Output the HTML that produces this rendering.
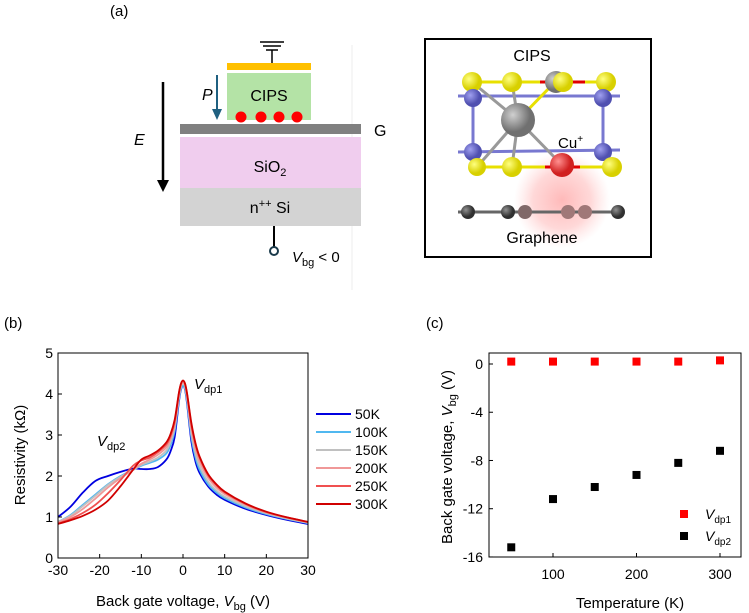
<!DOCTYPE html>
<html><head><meta charset="utf-8"><style>
body{margin:0;background:#fff;}
svg{display:block;font-family:"Liberation Sans",Arial,sans-serif;}
</style></head><body>
<svg width="749" height="613" viewBox="0 0 749 613">
<defs>
<radialGradient id="glow"><stop offset="0" stop-color="#ff8080" stop-opacity="0.55"/><stop offset="0.6" stop-color="#ff9090" stop-opacity="0.35"/><stop offset="1" stop-color="#ffb0b0" stop-opacity="0"/></radialGradient>
<radialGradient id="yel" cx="0.35" cy="0.35"><stop offset="0" stop-color="#ffff80"/><stop offset="1" stop-color="#d8d000"/></radialGradient>
<radialGradient id="blu" cx="0.35" cy="0.35"><stop offset="0" stop-color="#a0a0f0"/><stop offset="1" stop-color="#5050b0"/></radialGradient>
<radialGradient id="gry" cx="0.35" cy="0.35"><stop offset="0" stop-color="#d0d0d0"/><stop offset="1" stop-color="#707070"/></radialGradient>
<radialGradient id="red" cx="0.35" cy="0.35"><stop offset="0" stop-color="#ff9090"/><stop offset="1" stop-color="#d02020"/></radialGradient>
<radialGradient id="dk" cx="0.35" cy="0.35"><stop offset="0" stop-color="#909090"/><stop offset="1" stop-color="#303030"/></radialGradient>
</defs>
<g>
<text x="110" y="16" font-size="15">(a)</text>
<line x1="352" y1="45" x2="352" y2="290" stroke="#eee" stroke-width="1"/>
<g stroke="#000" stroke-width="1.5">
<line x1="260" y1="42" x2="284" y2="42"/><line x1="263" y1="46" x2="281" y2="46"/><line x1="266" y1="50" x2="278" y2="50"/><line x1="272" y1="50" x2="272" y2="63"/>
</g>
<rect x="227" y="63" width="84" height="7" fill="#ffc000"/>
<rect x="227" y="73" width="84" height="47" fill="#b4e3a6"/>
<text x="269" y="101" font-size="16" text-anchor="middle">CIPS</text>
<g fill="#ff0000"><circle cx="241" cy="117" r="5.5"/><circle cx="261" cy="117" r="5.5"/><circle cx="279" cy="117" r="5.5"/><circle cx="297" cy="117" r="5.5"/></g>
<rect x="180" y="124" width="181" height="10" fill="#808080"/>
<text x="374" y="136" font-size="16">G</text>
<rect x="180" y="137" width="181" height="51" fill="#f0cdee"/>
<text x="270" y="172" font-size="16" text-anchor="middle">SiO<tspan font-size="11" dy="4">2</tspan></text>
<rect x="180" y="188" width="181" height="38" fill="#d3d3d3"/>
<text x="270" y="213" font-size="16" text-anchor="middle">n<tspan font-size="11" dy="-6">++</tspan><tspan dy="6"> Si</tspan></text>
<line x1="274" y1="226" x2="274" y2="247" stroke="#000" stroke-width="2"/>
<circle cx="274" cy="251" r="4" fill="#fff" stroke="#1a3a4a" stroke-width="2"/>
<text x="292" y="262" font-size="15"><tspan font-style="italic">V</tspan><tspan font-size="11" dy="4">bg</tspan><tspan dy="-4"> &lt; 0</tspan></text>
<g><line x1="163" y1="82" x2="163" y2="180" stroke="#000" stroke-width="2.5"/><polygon points="157,180 169,180 163,192" fill="#000"/></g>
<text x="134" y="145" font-size="16" font-style="italic">E</text>
<g><line x1="217" y1="75" x2="217" y2="110" stroke="#1f6080" stroke-width="2"/><polygon points="212,109 222,109 217,120" fill="#1f6080"/></g>
<text x="202" y="100" font-size="16" font-style="italic">P</text>
</g>
<g>
<rect x="425" y="39" width="226" height="218" fill="#fff" stroke="#000" stroke-width="2"/>
<circle cx="562" cy="200" r="48" fill="url(#glow)"/>
<text x="532" y="61" font-size="16" text-anchor="middle">CIPS</text>
<g stroke-width="3">
<line x1="458" y1="96" x2="620" y2="96" stroke="#7878d0"/>
<line x1="473" y1="98" x2="473" y2="152" stroke="#7878d0"/><line x1="603" y1="98" x2="603" y2="152" stroke="#7878d0"/>
<line x1="458" y1="152" x2="620" y2="150" stroke="#7878d0"/>
<line x1="472" y1="82" x2="606" y2="82" stroke="#e8e000"/>
<line x1="540" y1="82" x2="585" y2="82" stroke="#e00000"/>
<line x1="477" y1="167" x2="612" y2="167" stroke="#e8e000"/>
<line x1="545" y1="167" x2="580" y2="167" stroke="#e00000"/>
<line x1="518" y1="120" x2="472" y2="82" stroke="#999"/><line x1="518" y1="120" x2="512" y2="82" stroke="#999"/><line x1="518" y1="120" x2="555" y2="82" stroke="#e8e000"/>
<line x1="518" y1="120" x2="477" y2="167" stroke="#999"/><line x1="518" y1="120" x2="512" y2="167" stroke="#999"/><line x1="518" y1="120" x2="562" y2="165" stroke="#999"/>
<line x1="458" y1="212" x2="620" y2="212" stroke="#666"/>
</g>
<circle cx="556" cy="82" r="11" fill="url(#gry)"/>
<circle cx="472" cy="82" r="10" fill="url(#yel)"/><circle cx="512" cy="82" r="10" fill="url(#yel)"/><circle cx="563" cy="82" r="10" fill="url(#yel)"/><circle cx="606" cy="82" r="10" fill="url(#yel)"/>
<circle cx="473" cy="98" r="9" fill="url(#blu)"/><circle cx="603" cy="98" r="9" fill="url(#blu)"/>
<circle cx="473" cy="152" r="9" fill="url(#blu)"/><circle cx="603" cy="152" r="9" fill="url(#blu)"/>
<circle cx="518" cy="120" r="17" fill="url(#gry)"/>
<circle cx="477" cy="167" r="9" fill="url(#yel)"/><circle cx="512" cy="167" r="10" fill="url(#yel)"/><circle cx="612" cy="167" r="10" fill="url(#yel)"/>
<circle cx="562" cy="165" r="12" fill="url(#red)"/>
<text x="558" y="148" font-size="15">Cu<tspan font-size="10" dy="-6">+</tspan></text>
<circle cx="468" cy="212" r="7" fill="url(#dk)"/><circle cx="508" cy="212" r="7" fill="url(#dk)"/><circle cx="525" cy="212" r="7" fill="#806868"/><circle cx="568" cy="212" r="7" fill="#a07878"/><circle cx="585" cy="212" r="7" fill="#a07878"/><circle cx="618" cy="212" r="7" fill="url(#dk)"/>
<text x="542" y="243" font-size="16" text-anchor="middle">Graphene</text>
</g>
<g id="chartB">
<text x="4" y="328" font-size="15">(b)</text>
</g>
<g id="chartC">
<text x="426" y="328" font-size="15">(c)</text>
</g>
</svg>
<script>
const NS='http://www.w3.org/2000/svg';
const vbg=[-30,-27,-24,-21,-18,-15,-12,-10,-8,-6,-4,-3,-2,-1,-0.5,0,0.5,1,2,3,4,6,8,10,15,20,25,30];
const r50=[1.0,1.25,1.6,1.88,2.0,2.1,2.18,2.17,2.17,2.22,2.4,2.6,2.95,3.8,4.1,4.2,4.1,3.75,2.85,2.35,2.07,1.75,1.55,1.42,1.2,1.05,0.93,0.83];
const r100=[0.88,1.05,1.3,1.55,1.8,2.0,2.15,2.25,2.32,2.4,2.55,2.75,3.1,3.85,4.12,4.2,4.12,3.8,2.95,2.45,2.15,1.8,1.6,1.46,1.23,1.07,0.95,0.85];
const r150=[0.88,1.03,1.27,1.52,1.78,1.98,2.15,2.27,2.35,2.45,2.62,2.83,3.18,3.9,4.17,4.25,4.17,3.87,3.05,2.55,2.24,1.87,1.65,1.5,1.26,1.09,0.96,0.86];
const r200=[0.87,1.0,1.2,1.45,1.72,1.95,2.15,2.3,2.4,2.52,2.7,2.9,3.25,3.95,4.2,4.28,4.2,3.93,3.15,2.66,2.35,1.96,1.72,1.56,1.3,1.11,0.98,0.87];
const r250=[0.84,0.95,1.1,1.3,1.58,1.9,2.25,2.38,2.45,2.58,2.77,2.97,3.32,4.0,4.24,4.32,4.24,3.98,3.25,2.76,2.44,2.02,1.78,1.6,1.32,1.12,0.99,0.88];
const r300=[0.83,0.92,1.03,1.18,1.4,1.75,2.15,2.4,2.5,2.62,2.82,3.02,3.37,4.02,4.25,4.33,4.25,4.0,3.3,2.8,2.47,2.05,1.8,1.62,1.33,1.13,0.99,0.88];
const seriesLabels=['50K','100K','150K','200K','250K','300K'];
const xTicksB=[-30,-20,-10,0,10,20,30];
const yTicksB=[0,1,2,3,4,5];
const temps=[50,100,150,200,250,300];
const vdp1=[0.2,0.2,0.2,0.2,0.2,0.3];
const vdp2=[-15.2,-11.2,-10.2,-9.2,-8.2,-7.2];
const xTicksC=[100,200,300];
const yTicksC=[0,-4,-8,-12,-16];

function mk(tag,attrs,parent,txt){const e=document.createElementNS(NS,tag);for(const k in attrs)e.setAttribute(k,attrs[k]);if(txt!==undefined)e.textContent=txt;parent.appendChild(e);return e;}

const gB=document.getElementById('chartB');
const bL=58,bR=308,bT=353,bB=558;
const xB=v=>bL+(v+30)/60*(bR-bL);
const yB=v=>bB-v/5*(bB-bT);
const colors=['#0000e0','#50b8f0','#c0c0c0','#f09898','#f05050','#d00000'];
const allR=[r50,r100,r150,r200,r250,r300];
function spline(px,py){let d='M'+px[0]+','+py[0];for(let i=0;i<px.length-1;i++){const x0=px[Math.max(i-1,0)],y0=py[Math.max(i-1,0)],x1=px[i],y1=py[i],x2=px[i+1],y2=py[i+1],x3=px[Math.min(i+2,px.length-1)],y3=py[Math.min(i+2,px.length-1)];const t=6;d+=' C'+(x1+(x2-x0)/t)+','+(y1+(y2-y0)/t)+' '+(x2-(x3-x1)/t)+','+(y2-(y3-y1)/t)+' '+x2+','+y2;}return d;}
allR.forEach((r,i)=>{const p=mk('path',{d:spline(vbg.map(xB),r.map(yB)),fill:'none',stroke:colors[i],'stroke-width':1.8},gB);

});
const fB=mk('rect',{x:bL,y:bT,width:bR-bL,height:bB-bT,fill:'none',stroke:'#000','stroke-width':1},gB);


xTicksB.forEach(t=>{mk('line',{x1:xB(t),x2:xB(t),y1:bB,y2:bB-4,stroke:'#000'},gB);
const l=mk('text',{x:xB(t),y:bB+17,'font-size':14,'text-anchor':'middle'},gB,t);

});
yTicksB.forEach(t=>{mk('line',{x1:bL,x2:bL+4,y1:yB(t),y2:yB(t),stroke:'#000'},gB);
const l=mk('text',{x:bL-5,y:yB(t)+5,'font-size':14,'text-anchor':'end'},gB,t);

});
const xtB=mk('text',{x:183,y:606,'font-size':15,'text-anchor':'middle'},gB);
xtB.innerHTML='Back gate voltage, <tspan font-style="italic">V</tspan><tspan font-size="11" dy="4">bg</tspan><tspan dy="-4"> (V)</tspan>';


const ytB=mk('text',{x:0,y:0,'font-size':15,'text-anchor':'middle',transform:'translate(25,455) rotate(-90)'},gB,'Resistivity (kΩ)');


const a1=mk('text',{x:194,y:389,'font-size':15},gB);a1.innerHTML='<tspan font-style="italic">V</tspan><tspan font-size="11" dy="4">dp1</tspan>';


const a2=mk('text',{x:97,y:446,'font-size':15},gB);a2.innerHTML='<tspan font-style="italic">V</tspan><tspan font-size="11" dy="4">dp2</tspan>';


seriesLabels.forEach((s,i)=>{const y=414+i*18;const g=mk('g',{},gB);


mk('line',{x1:316,x2:351,y1:y,y2:y,stroke:colors[i],'stroke-width':2},g);mk('text',{x:355,y:y+5,'font-size':14},g,s);});

const gC=document.getElementById('chartC');
const cL=489,cR=741,cT=353,cB=557;
const xC=v=>553+(v-100)*0.835;
const yC=v=>364-v*12.06;
const fC=mk('rect',{x:cL,y:cT,width:cR-cL,height:cB-cT,fill:'none',stroke:'#000','stroke-width':1},gC);


xTicksC.forEach(t=>{mk('line',{x1:xC(t),x2:xC(t),y1:cB,y2:cB-4,stroke:'#000'},gC);
const l=mk('text',{x:xC(t),y:cB+22,'font-size':14,'text-anchor':'middle'},gC,t);

});
yTicksC.forEach(t=>{mk('line',{x1:cL,x2:cL+4,y1:yC(t),y2:yC(t),stroke:'#000'},gC);
const l=mk('text',{x:cL-6,y:yC(t)+5,'font-size':14,'text-anchor':'end'},gC,t);

});
temps.forEach((t,i)=>{const a=mk('rect',{x:xC(t)-4,y:yC(vdp1[i])-4,width:8,height:8,fill:'#ff0000'},gC);


const b=mk('rect',{x:xC(t)-4,y:yC(vdp2[i])-4,width:8,height:8,fill:'#000'},gC);

});
const lg1=mk('rect',{x:680,y:510,width:8,height:8,fill:'#ff0000'},gC);


const lg2=mk('rect',{x:680,y:532,width:8,height:8,fill:'#000'},gC);


const lt1=mk('text',{x:705,y:519,'font-size':14},gC);lt1.innerHTML='<tspan font-style="italic">V</tspan><tspan font-size="10" dy="4">dp1</tspan>';


const lt2=mk('text',{x:705,y:541,'font-size':14},gC);lt2.innerHTML='<tspan font-style="italic">V</tspan><tspan font-size="10" dy="4">dp2</tspan>';


const xtC=mk('text',{x:630,y:608,'font-size':15,'text-anchor':'middle'},gC,'Temperature (K)');


const ytC=mk('text',{x:0,y:0,'font-size':15,'text-anchor':'middle',transform:'translate(452,457) rotate(-90)'},gC);
ytC.innerHTML='Back gate voltage, <tspan font-style="italic">V</tspan><tspan font-size="11" dy="4">bg</tspan><tspan dy="-4"> (V)</tspan>';


</script>
</body></html>
